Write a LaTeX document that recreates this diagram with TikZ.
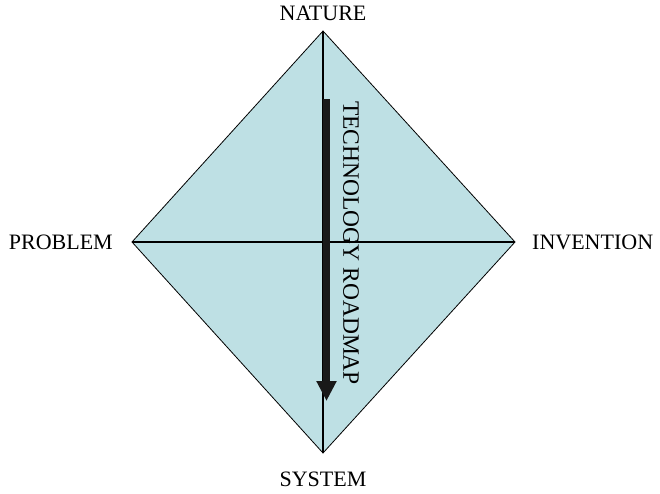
\documentclass[tikz,border=0pt]{standalone}
\usepackage{fontspec}
\setmainfont{Liberation Serif}
\usepackage{xcolor}
\usepackage{tikz}
\usetikzlibrary{arrows.meta,positioning}
\definecolor{kitefill}{RGB}{190,224,228}

\begin{document}
\begin{tikzpicture}
  [
    x=1pt,y=-1pt,
    corner/.style={font=\fontsize{22}{26}\selectfont,inner sep=2pt},
    kite/.style={fill=kitefill,draw=black,line width=0.8pt,line join=miter},
    axis/.style={draw=black,line width=1.1pt},
    roadmap/.style={draw=black!90,line width=7.5pt,-{Triangle[length=20pt,width=19pt]}}
  ]
  \useasboundingbox (0,0) rectangle (660,493);
  \coordinate (ntop) at (323,31);
  \coordinate (nright) at (515,242);
  \coordinate (nbot) at (323,453);
  \coordinate (nleft) at (132,242);
  \path[kite] (ntop) -- (nright) -- (nbot) -- (nleft) -- cycle;
  \draw[axis] (nleft) -- (nright);
  \draw[axis] (ntop) -- (nbot);
  \node[corner] (nature) [above = 8pt of ntop] {NATURE};
  \node[corner] (system) [below = 17pt of nbot] {SYSTEM};
  \node[corner] (problem) [left = 17pt of nleft] {PROBLEM};
  \node[corner] (invention) [right = 15pt of nright] {INVENTION};
  \coordinate (rmstart) at (326.5,99);
  \coordinate (rmend) at (326.5,401);
  \draw[roadmap] (rmstart) -- (rmend);
  \node[corner,rotate=-90,font=\fontsize{23.5}{28}\selectfont] (rmlabel) at (351,243) {TECHNOLOGY ROADMAP};
\end{tikzpicture}
\end{document}
